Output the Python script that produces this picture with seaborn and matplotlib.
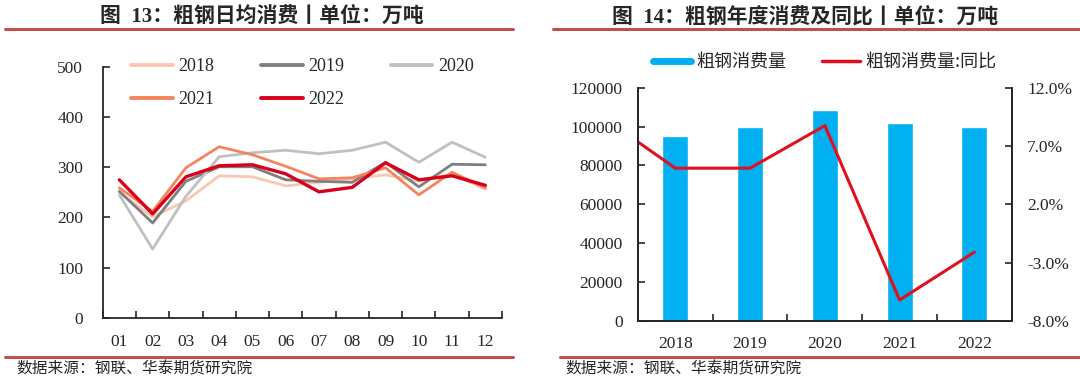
import numpy as np
import pandas as pd
import seaborn as sns
import matplotlib
matplotlib.use("Agg")
import matplotlib.pyplot as plt
from matplotlib.lines import Line2D
from matplotlib.ticker import FuncFormatter

# ---- data ----
months = ["01", "02", "03", "04", "05", "06", "07", "08", "09", "10", "11", "12"]
years = ["2018", "2019", "2020", "2021", "2022"]
d2018 = [250, 201, 233, 283, 281, 263, 270, 277, 285, 272, 287, 256]
d2019 = [252, 189, 272, 301, 301, 275, 272, 270, 310, 261, 306, 305]
d2020 = [245, 137, 242, 321, 329, 334, 327, 334, 350, 310, 350, 320]
d2021 = [259, 212, 299, 341, 325, 302, 277, 279, 299, 245, 290, 259]
d2022 = [275, 207, 281, 303, 305, 287, 251, 260, 309, 275, 283, 264]

bar_years = ["2018", "2019", "2020", "2021", "2022"]
consumption = [95000, 99800, 108600, 101800, 99800]
yoy_years = [2017, 2018, 2019, 2020, 2021, 2022]
yoy = [9.6, 5.1, 5.1, 8.75, -6.2, -2.1]

title_left = "图  13：粗钢日均消费丨单位：万吨"
title_right = "图  14：粗钢年度消费及同比丨单位：万吨"
source = "数据来源：钢联、华泰期货研究院"
bar_label = "粗钢消费量"
line_label = "粗钢消费量:同比"

palette = {
    "2018": "#f9c8b2",
    "2019": "#7f7f7f",
    "2020": "#c0c0c0",
    "2021": "#f4845e",
    "2022": "#d9001b",
}
bar_color = "#00b0f0"
yoy_color = "#e0101e"
rule_color = "#c0504d"

sns.set_style("ticks")
plt.rcParams["font.family"] = ["Liberation Serif", "Noto Sans CJK SC"]
cjk = ["Noto Sans CJK SC", "DejaVu Sans"]
serif_cjk = ["Liberation Serif", "Noto Sans CJK SC"]

fig = plt.figure(figsize=(10.8, 3.82), dpi=100)

# ---- left: daily consumption ----
df = pd.DataFrame({
    "month": months * 5,
    "value": d2018 + d2019 + d2020 + d2021 + d2022,
    "year": [y for y in years for _ in months],
})
ax = fig.add_axes([0.0951, 0.1683, 0.3697, 0.6563])
sns.lineplot(data=df, x="month", y="value", hue="year", palette=palette,
             linewidth=2.0, ax=ax, legend=False)
for ln, y in zip(ax.get_lines(), years):
    if y == "2022":
        ln.set_linewidth(2.4)
ax.set_xlim(-0.5, 11.5)
ax.set_ylim(0, 500)
ax.set_yticks(np.arange(0, 501, 100))
ax.set_xticks(np.arange(12))
ax.set_xticks(np.arange(-0.5, 12, 1), minor=True)
ax.tick_params(axis="x", which="major", length=0, pad=12, labelsize=12.5)
ax.tick_params(axis="x", which="minor", direction="in", length=5, width=1.2)
ax.tick_params(axis="y", direction="in", length=5, width=1.2, pad=14, labelsize=12.5)
ax.set_xlabel("")
ax.set_ylabel("")
for s in ["top", "right"]:
    ax.spines[s].set_visible(False)
for s in ["left", "bottom"]:
    ax.spines[s].set_linewidth(1.3)

handles = {y: Line2D([], [], color=palette[y], lw=2.8) for y in years}
order = ["2018", "2021", "2019", "2022", "2020"]
ax.legend([handles[y] for y in order], order, ncol=3, frameon=False,
          loc="upper center", bbox_to_anchor=(0.5, 1.1), fontsize=13,
          handlelength=2.3, columnspacing=2.6, handletextpad=0.3,
          labelspacing=0.9)

# ---- right: annual consumption and yoy ----
bdf = pd.DataFrame({"year": bar_years, "value": consumption})
axr = fig.add_axes([0.5907, 0.1597, 0.3461, 0.6107])
sns.barplot(data=bdf, x="year", y="value", color=bar_color, width=0.35,
            saturation=1, ax=axr)
axr.set_ylim(0, 120000)
axr.set_yticks(np.arange(0, 120001, 20000))
axr.set_xticks(np.arange(5))
axr.set_xticks(np.arange(-0.5, 5, 1), minor=True)
axr.tick_params(axis="x", which="both", direction="in", length=5, width=1.2,
                pad=11, labelsize=12.5)
axr.tick_params(axis="y", direction="in", length=5, width=1.2, pad=11,
                labelsize=12.5)
axr.set_xlabel("")
axr.set_ylabel("")
axr.spines["top"].set_visible(False)

ax2 = axr.twinx()
ydf = pd.DataFrame({"pos": [y - 2018 for y in yoy_years], "yoy": yoy})
sns.lineplot(data=ydf, x="pos", y="yoy", color=yoy_color, linewidth=2.2, ax=ax2)
ax2.set_ylim(-8, 12)
ax2.set_yticks(np.arange(-8, 13, 5))
ax2.yaxis.set_major_formatter(FuncFormatter(lambda v, p: "%.1f%%" % v))
ax2.tick_params(axis="y", direction="in", length=5, width=1.2, pad=11,
                labelsize=12.5)
ax2.set_ylabel("")
ax2.spines["top"].set_visible(False)
for a in (axr, ax2):
    for s in ["left", "right", "bottom"]:
        a.spines[s].set_linewidth(1.3)
axr.set_xlim(-0.5, 4.5)

axr.legend([Line2D([], [], color=bar_color, lw=5),
            Line2D([], [], color=yoy_color, lw=2.5)],
           [bar_label, line_label], ncol=2, frameon=False,
           loc="lower center", bbox_to_anchor=(0.5, 1.0),
           prop={"family": cjk, "size": 13}, handlelength=2.1,
           handletextpad=0.3, columnspacing=2.0)

# ---- titles, rules, sources ----
fig.text(262 / 1080, 1 - 17 / 382, title_left, ha="center", va="center",
         fontsize=15, fontweight="bold", family=serif_cjk)
fig.text(805 / 1080, 1 - 17 / 382, title_right, ha="center", va="center",
         fontsize=15, fontweight="bold", family=serif_cjk)
for x0, x1 in [(5, 513), (553, 1080)]:
    fig.add_artist(Line2D([x0 / 1080, x1 / 1080], [1 - 29 / 382] * 2,
                          color=rule_color, lw=2.2, transform=fig.transFigure))
for x0, x1 in [(5, 513), (560, 1080)]:
    fig.add_artist(Line2D([x0 / 1080, x1 / 1080], [1 - 357 / 382] * 2,
                          color=rule_color, lw=2.2, transform=fig.transFigure))
fig.text(16 / 1080, 1 - 369 / 382, source, ha="left", va="center",
         fontsize=11.3, family=cjk)
fig.text(565 / 1080, 1 - 369 / 382, source, ha="left", va="center",
         fontsize=11.3, family=cjk)

fig.savefig("out.png", dpi=100)
